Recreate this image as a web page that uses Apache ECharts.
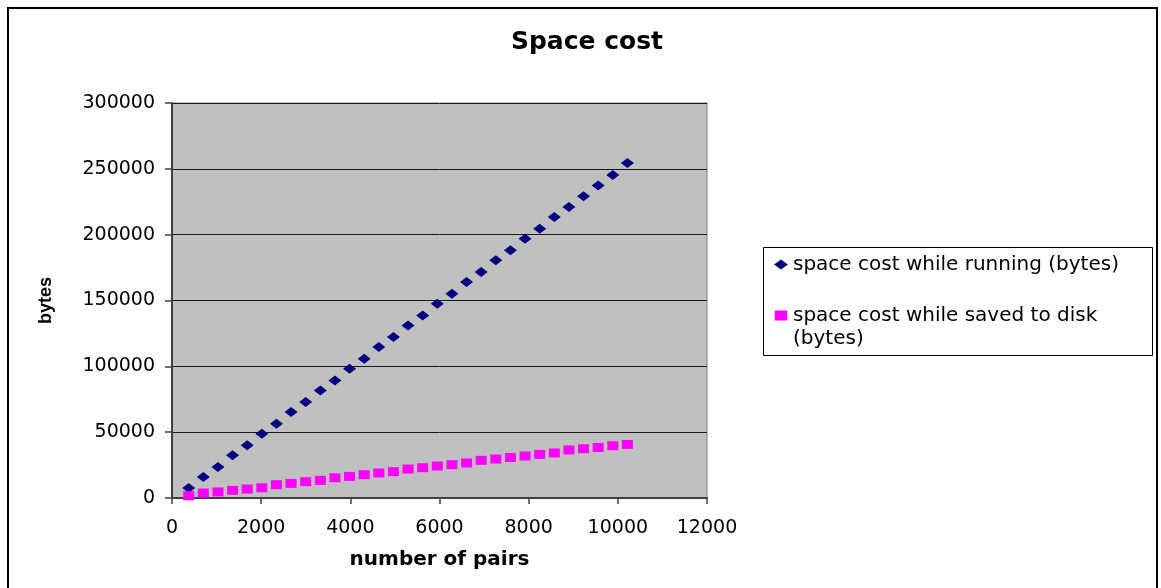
<!DOCTYPE html>
<html>
<head>
<meta charset="utf-8">
<title>Space cost</title>
<script src="https://cdn.jsdelivr.net/npm/echarts@6/dist/echarts.min.js"></script>
<style>
  html, body { margin: 0; padding: 0; background: #ffffff; }
  #chart { width: 1161px; height: 588px; }
</style>
</head>
<body>
<div id="chart"></div>
<script>
// Number of key/value pairs stored
const pairs = [375, 703, 1031, 1359, 1687, 2015, 2343, 2671, 2999, 3327,
               3655, 3983, 4311, 4639, 4967, 5295, 5623, 5951, 6279, 6607,
               6935, 7263, 7591, 7919, 8247, 8575, 8903, 9231, 9559, 9887, 10215];

// Memory used while the program is running (bytes)
const runningBytes = [7600, 15900, 23500, 32400, 40000, 48800, 56400, 65300, 72900, 81700,
                      89300, 98200, 105800, 114700, 122300, 131100, 138700, 147600, 155200, 164100,
                      171600, 180500, 188100, 196900, 204500, 213400, 221000, 229100, 237400, 245300, 254400];

// Size of the file written to disk (bytes)
const diskBytes = [1700, 3800, 4600, 5800, 6800, 7800, 10100, 11100, 12400, 13400,
                   15400, 16400, 17700, 19000, 20000, 22000, 23000, 24300, 25300, 26600,
                   28600, 29600, 30800, 31900, 33100, 34200, 36500, 37400, 38400, 39700, 40700];

const seriesNames = ['space cost while running (bytes)', 'space cost while saved to disk (bytes)'];

const FONT = 'DejaVu Sans';
const plainNumber = v => String(v);

const chart = echarts.init(document.getElementById('chart'), null, { renderer: 'canvas' });

chart.setOption({
  backgroundColor: '#ffffff',
  animation: false,
  title: {
    text: 'Space cost',
    left: 582,
    textAlign: 'center',
    top: 25,
    textStyle: { fontFamily: FONT, fontSize: 25, fontWeight: 'bold', color: '#000000' }
  },
  graphic: [
    {
      type: 'rect',
      shape: { x: 8, y: 8, width: 1149, height: 600 },
      style: { fill: 'none', stroke: '#000000', lineWidth: 2 },
      silent: true
    },
    {
      type: 'rect',
      shape: { x: 763.5, y: 247.5, width: 389, height: 108 },
      style: { fill: 'none', stroke: '#000000', lineWidth: 1 },
      silent: true
    }
  ],
  legend: {
    orient: 'vertical',
    left: 774,
    top: 253,
    padding: 0,
    itemWidth: 14,
    itemHeight: 10,
    itemGap: 5,
    textStyle: { fontFamily: FONT, fontSize: 20, color: '#000000', lineHeight: 23 },
    // the second entry wraps; a leading blank line keeps its icon level with the first text line
    formatter: function (name) {
      return name === seriesNames[1] ? ' \nspace cost while saved to disk\n(bytes)' : name;
    },
    data: [
      { name: seriesNames[0], itemStyle: { opacity: 1 } },
      { name: seriesNames[1], icon: 'path://M2,1L12,1L12,9L2,9Z', itemStyle: { opacity: 1 } }
    ]
  },
  grid: {
    left: 172,
    top: 103,
    width: 535,
    height: 395,
    show: true,
    backgroundColor: '#C0C0C0',
    borderColor: '#808080',
    borderWidth: 1
  },
  xAxis: {
    type: 'value',
    min: 0,
    max: 12000,
    interval: 2000,
    name: 'number of pairs',
    nameLocation: 'middle',
    nameGap: 52,
    nameTextStyle: { fontFamily: FONT, fontSize: 20, fontWeight: 'bold', color: '#000000' },
    axisLine: { show: true, lineStyle: { color: '#404040', width: 2 } },
    axisTick: { show: true, length: 6, lineStyle: { color: '#404040', width: 1.5 } },
    axisLabel: { margin: 21, fontFamily: FONT, fontSize: 19, color: '#000000', formatter: plainNumber },
    splitLine: { show: false }
  },
  yAxis: {
    type: 'value',
    min: 0,
    max: 300000,
    interval: 50000,
    name: 'bytes',
    nameLocation: 'middle',
    nameGap: 117,
    nameRotate: 90,
    nameTextStyle: { fontFamily: 'Liberation Sans', fontSize: 18, fontWeight: 'bold', color: '#000000' },
    axisLine: { show: true, lineStyle: { color: '#404040', width: 2 } },
    axisTick: { show: true, length: 7, lineStyle: { color: '#404040', width: 1.5 } },
    axisLabel: { margin: 17, fontFamily: FONT, fontSize: 19, color: '#000000', formatter: plainNumber },
    splitLine: { show: true, lineStyle: { color: '#1a1a1a', width: 1 } }
  },
  series: [
    {
      name: seriesNames[0],
      type: 'scatter',
      symbol: 'diamond',
      symbolSize: [13, 10],
      itemStyle: { color: '#000080', opacity: 1 },
      data: pairs.map((p, i) => [p, runningBytes[i]])
    },
    {
      name: seriesNames[1],
      type: 'scatter',
      symbol: 'rect',
      symbolSize: [11, 9],
      itemStyle: { color: '#FF00FF', opacity: 1 },
      data: pairs.map((p, i) => [p, diskBytes[i]])
    }
  ]
});
</script>
</body>
</html>
